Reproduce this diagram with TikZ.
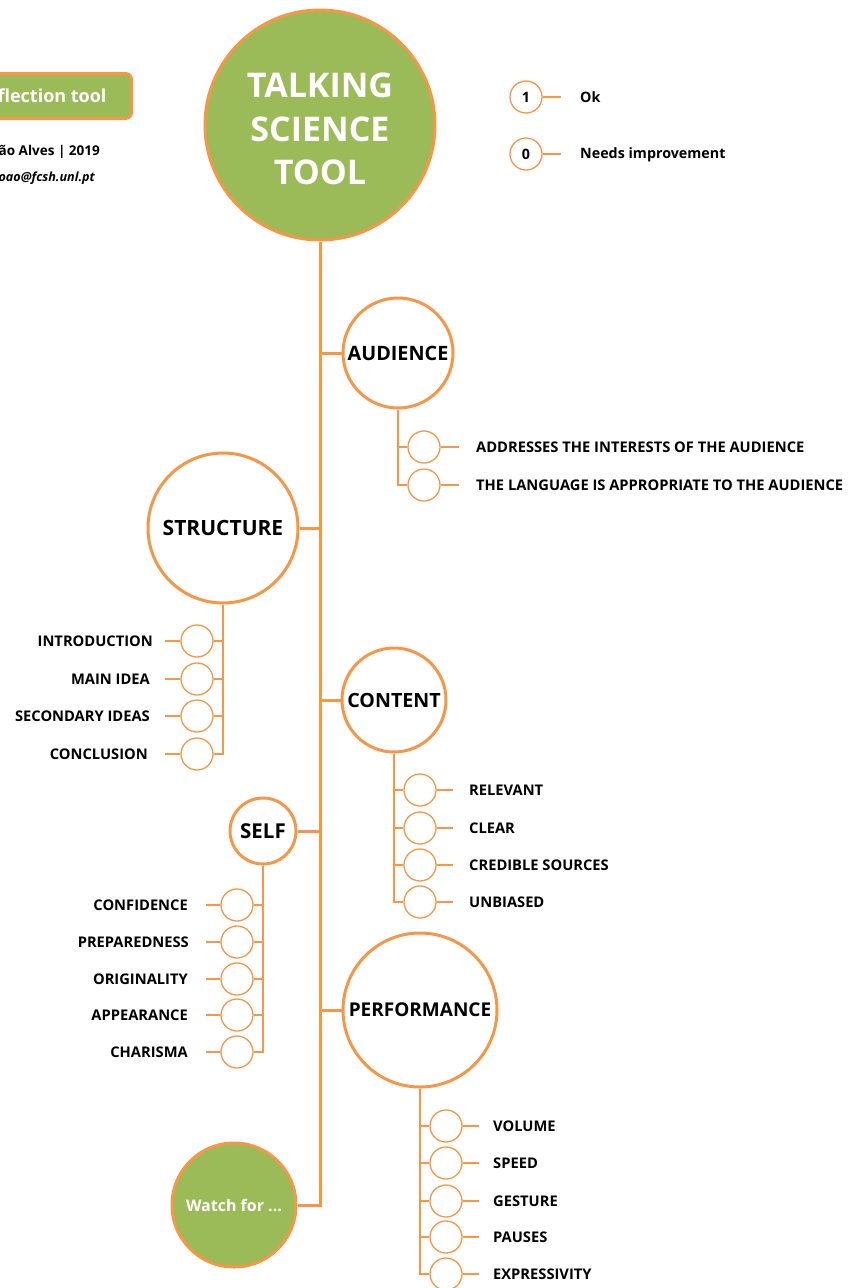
\documentclass[tikz,border=0pt]{standalone}
\usepackage{fontspec}
\setmainfont{Open Sans}
\usepackage{tikz}
\usetikzlibrary{positioning, calc}
\definecolor{tsorange}{RGB}{247, 150, 70}
\definecolor{tsgreen}{RGB}{155, 187, 89}

\tikzset{
	bigcirc/.style={circle, draw=tsorange, line width=3pt, fill=white, inner sep=0pt, font=\bfseries},
	greencirc/.style={circle, draw=tsorange, line width=3pt, fill=tsgreen, text=white, inner sep=0pt},
	score/.style={circle, draw=tsorange, line width=1.3pt, fill=white, minimum size=32pt, inner sep=0pt, font=\fontsize{14.3}{14.3}\selectfont\bfseries},
	item/.style={font=\fontsize{14.7}{14.7}\selectfont\bfseries, inner sep=0pt},
	legend/.style={font=\fontsize{14.3}{14.3}\selectfont\bfseries, inner sep=0pt},
	trunk/.style={draw=tsorange, line width=3pt},
	branch/.style={draw=tsorange, line width=2.6pt},
	tick/.style={draw=tsorange, line width=2pt}
}

\begin{document}
\begin{tikzpicture}[x=1pt, y=-1pt]
	\useasboundingbox (0,0) rectangle (852,1288);
	\clip (0,0) rectangle (852,1288);

	% header
	\node[draw=tsorange, line width=3pt, fill=tsgreen, rounded corners=6pt, text=white, anchor=east,
		minimum height=45pt, inner xsep=25pt, font=\fontsize{18}{18}\selectfont\bfseries] (tag) at (133,96) {Reflection tool};
	\node[legend, anchor=east, font=\fontsize{13.5}{13.5}\selectfont\bfseries] (author) at (100,152) {João Alves | 2019};
	\node[legend, anchor=east, font=\fontsize{12.6}{12.6}\selectfont\bfseries\itshape] (mail) at (95,178) {joao@fcsh.unl.pt};

	\node[greencirc, minimum size=230pt] (title) at (320,125) {};
	\node[text=white, align=center, font=\fontsize{34}{43.5}\selectfont\bfseries] (titletext) at ($(title.center)+(0,4)$) {TALKING\\SCIENCE\\TOOL};

	% legend
	\node[score] (ok) at (526,97) {1};
	\node[legend, anchor=west] (okt) at (580,97) {Ok};
	\draw[tick] (ok.east) -- ++(18,0);
	\node[score] (ni) at (526,154) {0};
	\node[legend, anchor=west] (nit) at (580,155) {Needs improvement};
	\draw[tick] (ni.east) -- ++(18,0);

	% main nodes
	\node[bigcirc, minimum size=110pt, font=\fontsize{19.8}{19.8}\selectfont\bfseries] (aud) at (398,353) {AUDIENCE};
	\node[bigcirc, minimum size=150pt, font=\fontsize{21}{21}\selectfont\bfseries] (struc) at (223,528) {STRUCTURE};
	\node[bigcirc, minimum size=104pt, font=\fontsize{19.6}{19.6}\selectfont\bfseries] (cont) at (394,700) {CONTENT};
	\node[bigcirc, minimum size=66pt, font=\fontsize{20.5}{20.5}\selectfont\bfseries] (self) at (263,831) {SELF};
	\node[bigcirc, minimum size=154pt, font=\fontsize{19}{19}\selectfont\bfseries] (perf) at (420,1010) {PERFORMANCE};
	\node[greencirc, minimum size=124pt, font=\fontsize{16}{16}\selectfont\bfseries] (watch) at (234,1205) {Watch for ...};

	% trunk
	\draw[trunk] (title.south) |- (watch.east);
	\draw[trunk] (aud.west) -- (aud.west -| title.south);
	\draw[trunk] (struc.east) -- (struc.east -| title.south);
	\draw[trunk] (cont.west) -- (cont.west -| title.south);
	\draw[trunk] (self.east) -- (self.east -| title.south);
	\draw[trunk] (perf.west) -- (perf.west -| title.south);

	% audience
	\node[score] (a1) at (424,447) {};
	\node[score] (a2) at (424,485) {};
	\node[item, anchor=west] (a1t) at (476,447) {ADDRESSES THE INTERESTS OF THE AUDIENCE};
	\node[item, anchor=west] (a2t) at (476,485) {THE LANGUAGE IS APPROPRIATE TO THE AUDIENCE};
	\draw[branch] (aud.south) |- (a2.west);
	\draw[tick] (a1.west) -- (a1.west -| aud.south);
	\draw[tick] (a1.east) -- ++(18,0);
	\draw[tick] (a2.east) -- ++(18,0);

	% structure
	\node[score] (s1) at (197,641) {};
	\node[score] (s2) at (197,679) {};
	\node[score] (s3) at (197,716) {};
	\node[score] (s4) at (197,754) {};
	\node[item, anchor=east] (s1t) at (153,641) {INTRODUCTION};
	\node[item, anchor=east] (s2t) at (150,679) {MAIN IDEA};
	\node[item, anchor=east] (s3t) at (150,716) {SECONDARY IDEAS};
	\node[item, anchor=east] (s4t) at (148,754) {CONCLUSION};
	\draw[branch] (struc.south) |- (s4.east);
	\draw[tick] (s1.east) -- (s1.east -| struc.south);
	\draw[tick] (s2.east) -- (s2.east -| struc.south);
	\draw[tick] (s3.east) -- (s3.east -| struc.south);
	\draw[tick] (s1.west) -- ++(-15,0);
	\draw[tick] (s2.west) -- ++(-15,0);
	\draw[tick] (s3.west) -- ++(-15,0);
	\draw[tick] (s4.west) -- ++(-15,0);

	% content
	\node[score] (c1) at (420,790) {};
	\node[score] (c2) at (420,828) {};
	\node[score] (c3) at (420,865) {};
	\node[score] (c4) at (420,902) {};
	\node[item, anchor=west] (c1t) at (469,790) {RELEVANT};
	\node[item, anchor=west] (c2t) at (469,828) {CLEAR};
	\node[item, anchor=west] (c3t) at (469,865) {CREDIBLE SOURCES};
	\node[item, anchor=west] (c4t) at (469,902) {UNBIASED};
	\draw[branch] (cont.south) |- (c4.west);
	\draw[tick] (c1.west) -- (c1.west -| cont.south);
	\draw[tick] (c2.west) -- (c2.west -| cont.south);
	\draw[tick] (c3.west) -- (c3.west -| cont.south);
	\draw[tick] (c1.east) -- ++(16,0);
	\draw[tick] (c2.east) -- ++(16,0);
	\draw[tick] (c3.east) -- ++(16,0);
	\draw[tick] (c4.east) -- ++(16,0);

	% self
	\node[score] (f1) at (237,905) {};
	\node[score] (f2) at (237,942) {};
	\node[score] (f3) at (237,979) {};
	\node[score] (f4) at (237,1015) {};
	\node[score] (f5) at (237,1052) {};
	\node[item, anchor=east] (f1t) at (188,905) {CONFIDENCE};
	\node[item, anchor=east] (f2t) at (189,942) {PREPAREDNESS};
	\node[item, anchor=east] (f3t) at (188,979) {ORIGINALITY};
	\node[item, anchor=east] (f4t) at (188,1015) {APPEARANCE};
	\node[item, anchor=east] (f5t) at (188,1052) {CHARISMA};
	\draw[branch] (self.south) |- (f5.east);
	\draw[tick] (f1.east) -- (f1.east -| self.south);
	\draw[tick] (f2.east) -- (f2.east -| self.south);
	\draw[tick] (f3.east) -- (f3.east -| self.south);
	\draw[tick] (f4.east) -- (f4.east -| self.south);
	\draw[tick] (f1.west) -- ++(-14,0);
	\draw[tick] (f2.west) -- ++(-14,0);
	\draw[tick] (f3.west) -- ++(-14,0);
	\draw[tick] (f4.west) -- ++(-14,0);
	\draw[tick] (f5.west) -- ++(-14,0);

	% performance
	\node[score] (p1) at (446,1126) {};
	\node[score] (p2) at (446,1163) {};
	\node[score] (p3) at (446,1201) {};
	\node[score] (p4) at (446,1237) {};
	\node[score] (p5) at (446,1274) {};
	\node[item, anchor=west] (p1t) at (493,1126) {VOLUME};
	\node[item, anchor=west] (p2t) at (493,1163) {SPEED};
	\node[item, anchor=west] (p3t) at (493,1201) {GESTURE};
	\node[item, anchor=west] (p4t) at (493,1237) {PAUSES};
	\node[item, anchor=west] (p5t) at (493,1274) {EXPRESSIVITY};
	\draw[branch] (perf.south) |- (p5.west);
	\draw[tick] (p1.west) -- (p1.west -| perf.south);
	\draw[tick] (p2.west) -- (p2.west -| perf.south);
	\draw[tick] (p3.west) -- (p3.west -| perf.south);
	\draw[tick] (p4.west) -- (p4.west -| perf.south);
	\draw[tick] (p1.east) -- ++(16,0);
	\draw[tick] (p2.east) -- ++(16,0);
	\draw[tick] (p3.east) -- ++(16,0);
	\draw[tick] (p4.east) -- ++(16,0);
	\draw[tick] (p5.east) -- ++(16,0);
\end{tikzpicture}
\end{document}
